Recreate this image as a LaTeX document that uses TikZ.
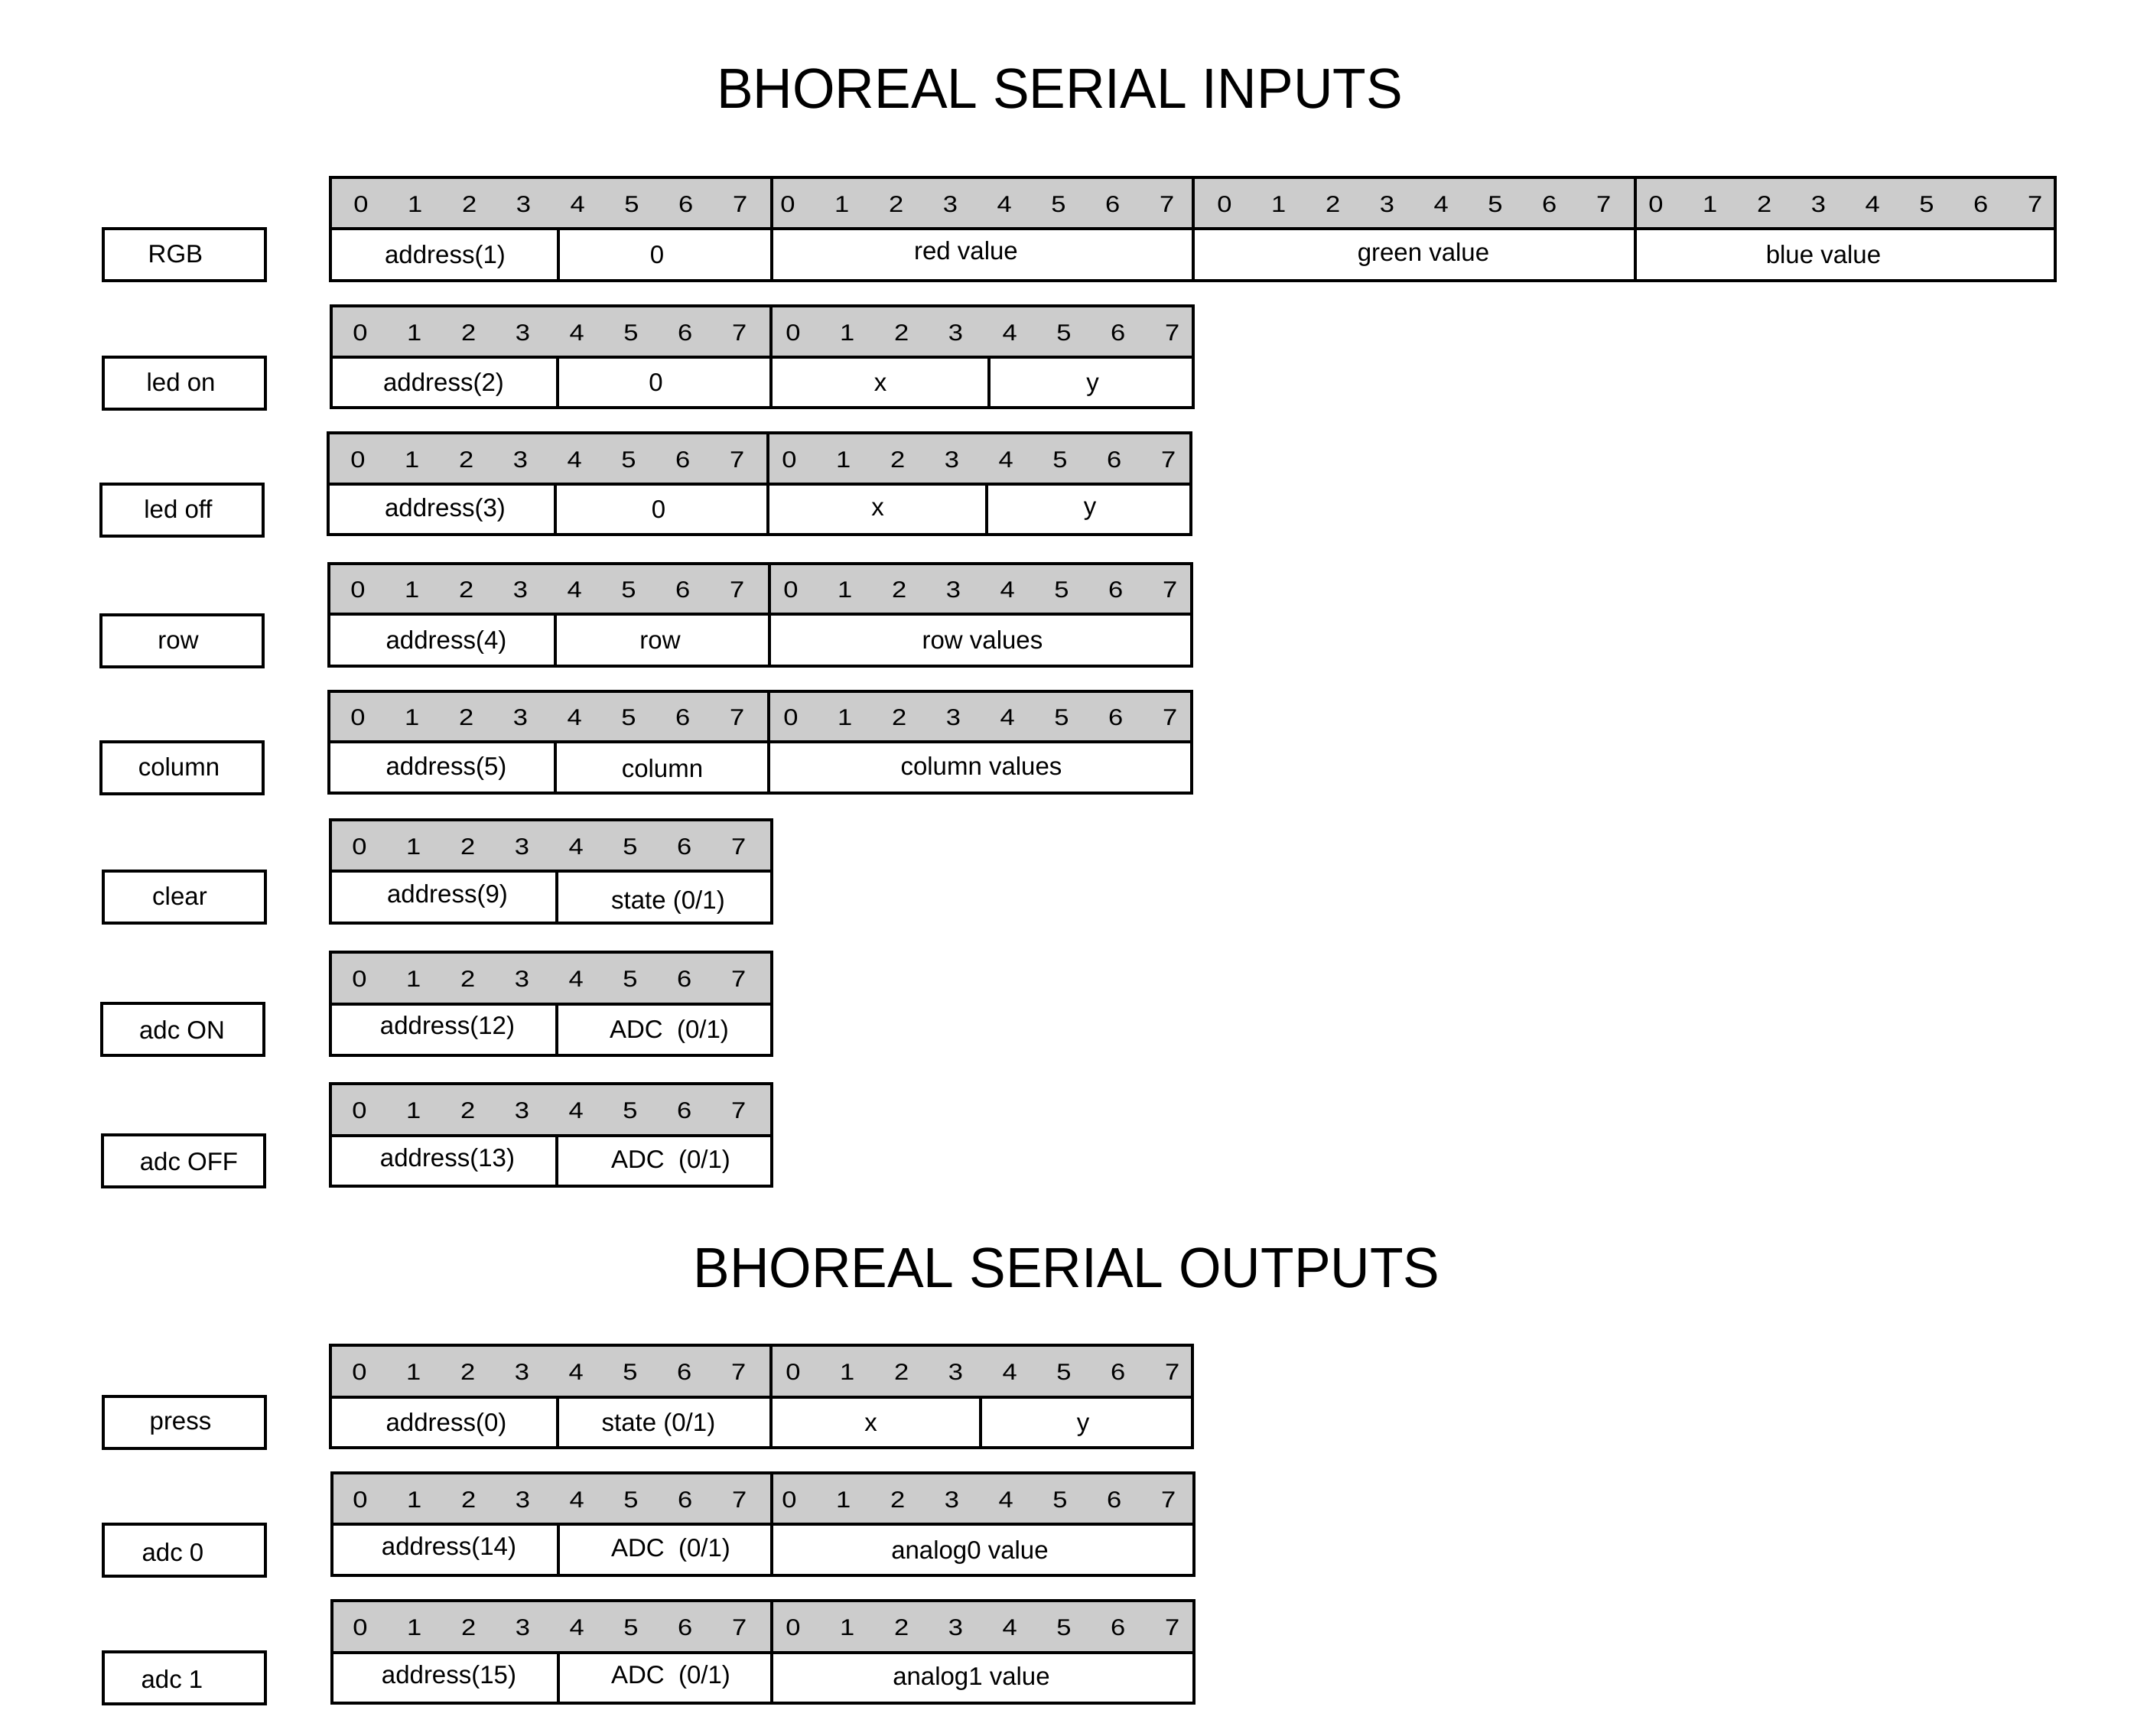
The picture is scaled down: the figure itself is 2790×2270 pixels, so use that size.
\documentclass[tikz,border=0pt]{standalone}
\usepackage{fontspec}
\setmainfont{Liberation Sans}
\newfontfamily\bitfam{Liberation Sans}[FakeStretch=1.15]
\newfontfamily\datfam{Liberation Sans}
\newfontfamily\ttlfam{Liberation Sans}[FakeStretch=0.965]
\newcommand\bitfont{\bitfam\fontsize{30}{34}\selectfont}
\newcommand\datfont{\datfam\fontsize{33}{38}\selectfont}
\newcommand\ttlfont{\ttlfam\fontsize{74}{80}\selectfont}
\definecolor{hdrgray}{HTML}{CCCCCC}
\tikzset{
  reg/.style={line width=4pt, line cap=rect, line join=miter},
  bit/.style={font=\bitfont, inner sep=0pt, text height=21.5pt, text depth=0pt},
  dat/.style={font=\datfont, inner sep=0pt, text height=23.6pt, text depth=0pt},
  lblbox/.style={draw, line width=4pt, minimum width=212pt, minimum height=68pt, inner sep=0pt},
  ttl/.style={font=\ttlfont, inner sep=0pt, anchor=base},
}
% #1 L, #2 T, #3 M, #4 R, #5 B
\newcommand\regbox[5]{%
  \fill[hdrgray] (#1,#2) rectangle (#4,#3);
  \draw[reg] (#1,#3) -- (#4,#3);
  \draw[reg] (#1,#2) rectangle (#4,#5);
}
% vertical separator: x, y1, y2
\newcommand\regsep[3]{\draw[reg] (#1,#2) -- (#1,#3);}
% bit digits: name prefix, x0, y
\newcommand\bitrow[3]{\foreach \i in {0,...,7} {\node[bit] (#1\i) at ({#2+\i*70.8},#3) {\i};}}
\begin{document}
\begin{tikzpicture}[x=1pt,y=-1pt]
\fill[white] (0,0) rectangle (2790,2270);
\useasboundingbox (0,0) rectangle (2790,2270);

\node[ttl] (titlein) at (1385.5,141) {BHOREAL SERIAL INPUTS};
\node[ttl] (titleout) at (1394.5,1683) {BHOREAL SERIAL OUTPUTS};

% ---------- Row 1: RGB ----------
\regbox{432}{232}{299}{2687}{367}
\regsep{1009}{232}{367}\regsep{1560}{232}{367}\regsep{2138}{232}{367}
\regsep{730}{299}{367}
\bitrow{ra}{472}{267}\bitrow{rb}{1030}{267}\bitrow{rc}{1601}{267}\bitrow{rd}{2165}{267}
\node[lblbox] (bRGB) at (241,333) {};
\node[dat] (tRGB) at (229.5,332) {RGB};
\node[dat] (d1a) at (582,333) {address(1)};
\node[dat] (d1b) at (859,333) {0};
\node[dat] (d1c) at (1263,328) {red value};
\node[dat] (d1d) at (1861,330) {green value};
\node[dat] (d1e) at (2384,333) {blue value};

% ---------- Row 2: led on ----------
\regbox{433}{400}{467}{1560}{533}
\regsep{1008}{400}{533}
\regsep{729}{467}{533}\regsep{1293}{467}{533}
\bitrow{la}{471}{435}\bitrow{lb}{1037}{435}
\node[lblbox] (bledon) at (241,500.5) {};
\node[dat] (tledon) at (236.6,500) {led on};
\node[dat] (d2a) at (580,500) {address(2)};
\node[dat] (d2b) at (857.5,500) {0};
\node[dat] (d2c) at (1151,500) {x};
\node[dat] (d2d) at (1428.5,500) {y};

% ---------- Row 3: led off ----------
\regbox{429}{566}{633}{1557}{699}
\regsep{1004}{566}{699}
\regsep{726}{633}{699}\regsep{1290}{633}{699}
\bitrow{oa}{468}{601}\bitrow{ob}{1032}{601}
\node[lblbox] (bledoff) at (237.5,666.5) {};
\node[dat] (tledoff) at (233,666) {led off};
\node[dat] (d3a) at (582,664) {address(3)};
\node[dat] (d3b) at (861,666) {0};
\node[dat] (d3c) at (1147.5,663) {x};
\node[dat] (d3d) at (1425,662) {y};

% ---------- Row 4: row ----------
\regbox{430}{737}{803}{1558}{871}
\regsep{1006}{737}{871}
\regsep{726}{803}{871}
\bitrow{wa}{468}{771}\bitrow{wb}{1034}{771}
\node[lblbox] (brow) at (238,837.5) {};
\node[dat] (trow) at (233,837) {row};
\node[dat] (d4a) at (583.5,837) {address(4)};
\node[dat] (d4b) at (863,837) {row};
\node[dat] (d4c) at (1284.5,837) {row values};

% ---------- Row 5: column ----------
\regbox{430}{904}{970}{1558}{1037}
\regsep{1005}{904}{1037}
\regsep{726}{970}{1037}
\bitrow{ca}{468}{938}\bitrow{cb}{1034}{938}
\node[lblbox] (bcol) at (238,1004) {};
\node[dat] (tcol) at (234,1003) {column};
\node[dat] (d5a) at (583.5,1002) {address(5)};
\node[dat] (d5b) at (866,1005) {column};
\node[dat] (d5c) at (1283,1002) {column values};

% ---------- Row 6: clear ----------
\regbox{432}{1072}{1138.5}{1009}{1207}
\regsep{728}{1138.5}{1207}
\bitrow{ka}{470}{1107}
\node[lblbox] (bclear) at (240.5,1173) {};
\node[dat] (tclear) at (235,1172) {clear};
\node[dat] (d6a) at (585,1169) {address(9)};
\node[dat] (d6b) at (873.5,1177) {state (0/1)};

% ---------- Row 7: adc ON ----------
\regbox{432}{1245}{1313}{1009}{1380}
\regsep{728}{1313}{1380}
\bitrow{na}{470}{1280}
\node[lblbox] (badcon) at (239,1346) {};
\node[dat] (tadcon) at (238,1347) {adc ON};
\node[dat] (d7a) at (585,1341) {address(12)};
\node[dat] (d7b) at (875,1346) {ADC~~(0/1)};

% ---------- Row 8: adc OFF ----------
\regbox{432}{1417}{1484.5}{1009}{1551}
\regsep{728}{1484.5}{1551}
\bitrow{fa}{470}{1452}
\node[lblbox] (badcoff) at (239.5,1518) {};
\node[dat] (tadcoff) at (247,1519) {adc OFF};
\node[dat] (d8a) at (585,1514) {address(13)};
\node[dat] (d8b) at (877,1516) {ADC~~(0/1)};

% ---------- Row 9: press ----------
\regbox{432}{1759}{1827}{1559}{1893}
\regsep{1008}{1759}{1893}
\regsep{729}{1827}{1893}\regsep{1282}{1827}{1893}
\bitrow{pa}{470}{1794}\bitrow{pb}{1037}{1794}
\node[lblbox] (bpress) at (240.5,1860) {};
\node[dat] (tpress) at (236,1858) {press};
\node[dat] (d9a) at (583.5,1860) {address(0)};
\node[dat] (d9b) at (861,1860) {state (0/1)};
\node[dat] (d9c) at (1138.6,1860) {x};
\node[dat] (d9d) at (1416,1860) {y};

% ---------- Row 10: adc 0 ----------
\regbox{434}{1926}{1993}{1561}{2060}
\regsep{1009}{1926}{2060}
\regsep{730}{1993}{2060}
\bitrow{za}{471}{1961}\bitrow{zb}{1032}{1961}
\node[lblbox] (badcz) at (241,2027) {};
\node[dat] (tadcz) at (226,2030) {adc 0};
\node[dat] (d10a) at (587,2022) {address(14)};
\node[dat] (d10b) at (877,2024) {ADC~~(0/1)};
\node[dat] (d10c) at (1268,2027) {analog0 value};

% ---------- Row 11: adc 1 ----------
\regbox{434}{2093}{2161}{1561}{2227}
\regsep{1009}{2093}{2227}
\regsep{730}{2161}{2227}
\bitrow{ya}{471}{2128}\bitrow{yb}{1037}{2128}
\node[lblbox] (badco) at (241,2194) {};
\node[dat] (tadco) at (225,2196) {adc 1};
\node[dat] (d11a) at (587,2190) {address(15)};
\node[dat] (d11b) at (877,2190) {ADC~~(0/1)};
\node[dat] (d11c) at (1270,2192) {analog1 value};
\end{tikzpicture}
\end{document}
